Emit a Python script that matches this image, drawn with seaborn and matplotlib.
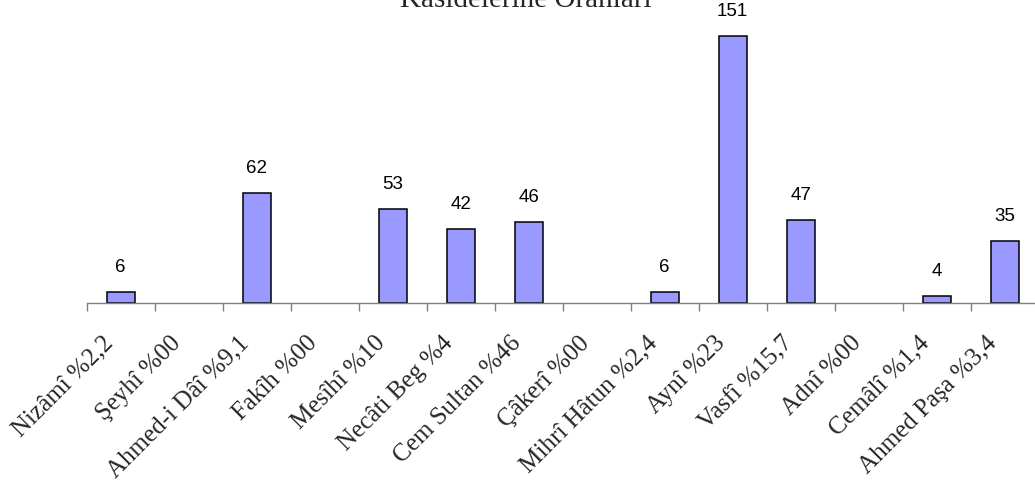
import matplotlib
matplotlib.use("Agg")
import matplotlib.pyplot as plt
import matplotlib.transforms as mtransforms
import seaborn as sns
import pandas as pd

poets = ["Nizâmî %2,2", "Şeyhî %00", "Ahmed-i Dâî %9,1", "Fakîh %00", "Mesîhî %10",
         "Necâti Beg %4", "Cem Sultan %46", "Çâkerî %00", "Mihrî Hâtun %2,4",
         "Aynî %23", "Vasfî %15,7", "Adnî %00", "Cemâlî %1,4", "Ahmed Paşa %3,4"]
counts = [6, 0, 62, 0, 53, 42, 46, 0, 6, 151, 47, 0, 4, 35]
title = "Kasidelerine Oranları"

sns.set_theme(style="white")
plt.rcParams["font.family"] = ["Liberation Serif", "DejaVu Serif"]

W, H = 1035, 491
fig = plt.figure(figsize=(W / 100, H / 100), dpi=100)
ax_left, ax_bottom_px, cat_w = 86.7, 303, 68
ax = fig.add_axes([ax_left / W, (H - ax_bottom_px) / H, cat_w * len(poets) / W, ax_bottom_px / H])

df = pd.DataFrame({"poet": poets, "count": counts})
sns.barplot(data=df, x="poet", y="count", color="#9999FF", saturation=1,
            edgecolor="black", linewidth=1.1, width=0.41, ax=ax)

for p, v in zip(ax.patches, counts):
    if v == 0:
        p.set_visible(False)

ax.bar_label(ax.containers[0], labels=[str(v) if v else "" for v in counts],
             padding=11.5, fontsize=13.5, family="Liberation Sans", color="black")

ax.set_xlim(-0.5, len(poets) - 0.5)
ax.set_ylim(0, ax_bottom_px / 1.768)
ax.set_xlabel("")
ax.set_ylabel("")
ax.set_yticks([])
for s in ["left", "right", "top"]:
    ax.spines[s].set_visible(False)
ax.spines["bottom"].set_color("#808080")
ax.spines["bottom"].set_linewidth(1.0)

# boundary ticks between categories
ax.set_xticks([i - 0.5 for i in range(len(poets) + 1)], minor=True)
ax.tick_params(axis="x", which="minor", length=6, width=1.0, color="#808080", direction="out", bottom=True)
ax.tick_params(axis="x", which="major", length=0, bottom=False, pad=0)
ax.set_xticks(range(len(poets)))
ax.set_xticklabels(poets, rotation=45, ha="right", va="center", rotation_mode="anchor", fontsize=18)
offset = mtransforms.ScaledTranslation(-11 / 100, -37 / 100, fig.dpi_scale_trans)
for lab in ax.get_xticklabels():
    lab.set_transform(lab.get_transform() + offset)

fig.text(526 / W, 1 - 7 / H, title, ha="center", va="baseline", fontsize=21)

fig.savefig("out.png", dpi=100)
